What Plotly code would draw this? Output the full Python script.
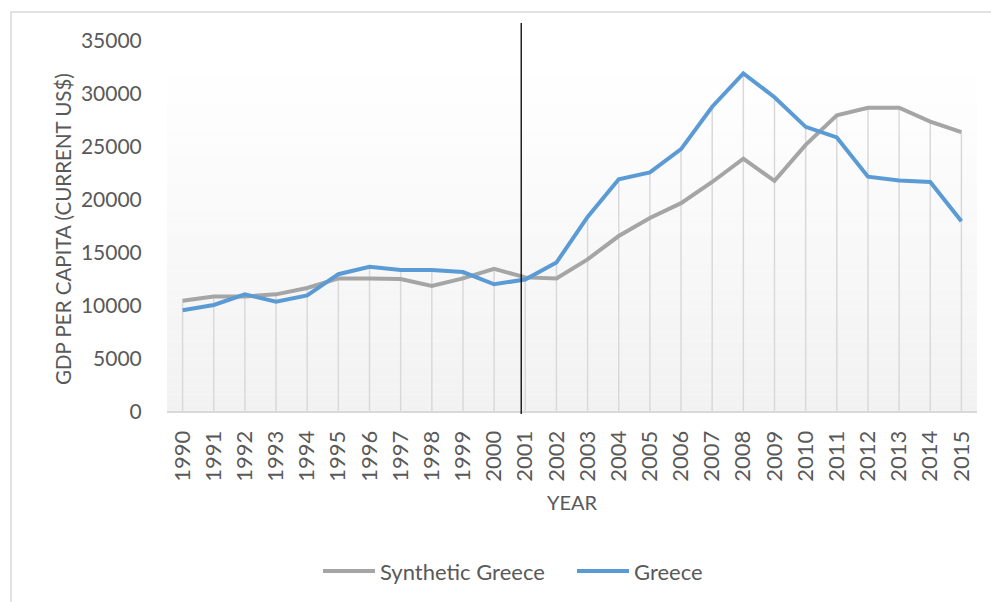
import plotly.graph_objects as go

years = list(range(1990, 2016))
synthetic = [10500, 10900, 10900, 11100, 11700, 12600, 12600, 12550, 11900, 12600,
             13500, 12700, 12600, 14400, 16600, 18300, 19700, 21700, 23900, 21800,
             25200, 28000, 28700, 28700, 27400, 26400]
greece = [9600, 10100, 11100, 10400, 11000, 13000, 13700, 13400, 13400, 13200,
          12050, 12500, 14100, 18400, 21950, 22600, 24800, 28800, 31950, 29700,
          26900, 25900, 22200, 21850, 21700, 18000]
y_ticks = [0, 5000, 10000, 15000, 20000, 25000, 30000, 35000]
treatment_x = 2000.87

W, H = 991, 602
L, R, T, B = 167, 14, 23, 188
PW, PH = W - L - R, H - T - B

def px(x):
    return (x - L) / PW

def py(y):
    return (H - B - y) / PH

FONT = "Lato"
TXT = "#595959"
GRAY = "#a5a5a5"
BLUE = "#5b9bd5"

fig = go.Figure()

# drop lines
dx, dy = [], []
for yr, a, b in zip(years, synthetic, greece):
    dx += [yr, yr, None]
    dy += [0, max(a, b), None]
fig.add_trace(go.Scatter(x=dx, y=dy, mode="lines", line=dict(color="#d9d9d9", width=1.5),
                         hoverinfo="skip", showlegend=False))

fig.add_trace(go.Scatter(x=years, y=synthetic, mode="lines", name="Synthetic Greece",
                         line=dict(color=GRAY, width=4), showlegend=False))
fig.add_trace(go.Scatter(x=years, y=greece, mode="lines", name="Greece",
                         line=dict(color=BLUE, width=4), showlegend=False))

shapes = []
# gradient background of plot area
top_px, bot_px = 60, 412
n = 40
for i in range(n):
    y0 = top_px + (bot_px - top_px) * i / n
    y1 = top_px + (bot_px - top_px) * (i + 1) / n
    t = (i + 0.5) / n
    c = int(round(255 - (255 - 242) * t))
    shapes.append(dict(type="rect", xref="paper", yref="paper", x0=0, x1=1,
                       y0=py(y1), y1=py(y0), line=dict(width=0),
                       fillcolor=f"rgb({c},{c},{c})", layer="below"))
# chart border
shapes.append(dict(type="rect", xref="paper", yref="paper", x0=px(11), x1=px(1100),
                   y0=py(700), y1=py(12), line=dict(color="#d9d9d9", width=1.5),
                   fillcolor="rgba(0,0,0,0)", layer="below"))
# treatment line
shapes.append(dict(type="line", xref="x", yref="paper", x0=treatment_x, x1=treatment_x,
                   y0=0, y1=1, line=dict(color="black", width=1.3)))
# legend lines
shapes.append(dict(type="line", xref="paper", yref="paper", x0=px(323), x1=px(375),
                   y0=py(571), y1=py(571), line=dict(color=GRAY, width=4)))
shapes.append(dict(type="line", xref="paper", yref="paper", x0=px(577), x1=px(629),
                   y0=py(571), y1=py(571), line=dict(color=BLUE, width=4)))

annotations = [
    dict(text="GDP PER CAPITA (CURRENT US$)", xref="paper", yref="paper", x=px(63), y=py(229),
         textangle=-90, showarrow=False, xanchor="center", yanchor="middle",
         font=dict(family=FONT, size=20.5, color=TXT)),
    dict(text="YEAR", xref="paper", yref="paper", x=px(572), y=py(502), showarrow=False,
         xanchor="center", yanchor="middle", font=dict(family=FONT, size=20, color=TXT)),
    dict(text="Synthetic Greece", xref="paper", yref="paper", x=px(378), y=py(571),
         showarrow=False, xanchor="left", yanchor="middle",
         font=dict(family=FONT, size=22, color=TXT)),
    dict(text="Greece", xref="paper", yref="paper", x=px(632), y=py(571),
         showarrow=False, xanchor="left", yanchor="middle",
         font=dict(family=FONT, size=22, color=TXT)),
]

fig.update_layout(
    width=W, height=H, margin=dict(l=L, r=R, t=T, b=B),
    paper_bgcolor="white", plot_bgcolor="rgba(0,0,0,0)",
    shapes=shapes, annotations=annotations, showlegend=False,
    font=dict(family=FONT, color=TXT),
)
fig.update_xaxes(range=[1989.5, 2015.5], tickvals=years, ticktext=[str(y) for y in years],
                 tickangle=-90, showgrid=False, zeroline=False, showline=False,
                 ticks="outside", ticklen=7, tickcolor="rgba(0,0,0,0)",
                 tickfont=dict(family=FONT, size=22, color=TXT))
fig.update_yaxes(range=[-190, 36700], tickvals=y_ticks, ticktext=[str(v) for v in y_ticks],
                 showgrid=False, zeroline=True, zerolinecolor="#d9d9d9", zerolinewidth=1.5,
                 showline=False, ticks="outside", ticklen=20, tickcolor="rgba(0,0,0,0)",
                 tickfont=dict(family=FONT, size=21, color=TXT))

fig.write_html("out.html")
